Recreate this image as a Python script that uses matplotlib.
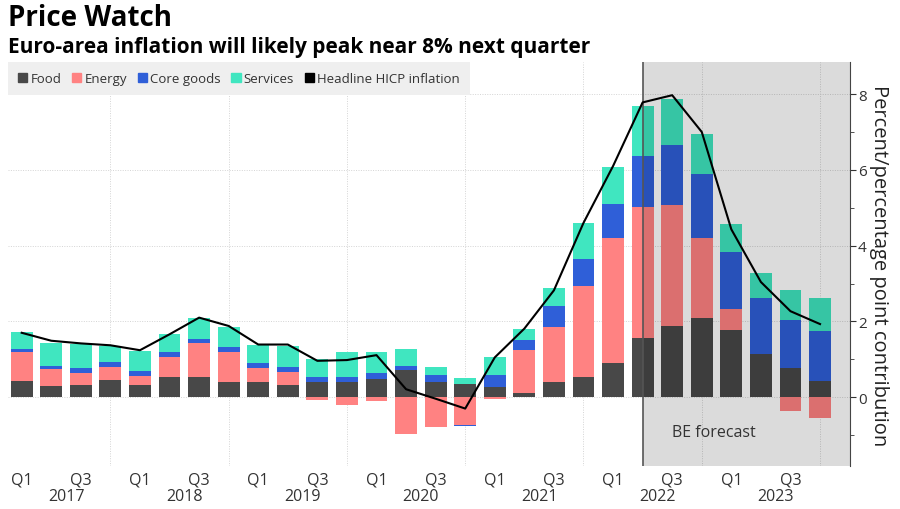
import numpy as np
import matplotlib.pyplot as plt
from matplotlib.patches import Patch
from matplotlib.transforms import blended_transform_factory

plt.rcParams['font.family'] = ['Open Sans', 'DejaVu Sans']

# quarterly contributions, 2017 Q1 .. 2023 Q4
years = ['2017', '2018', '2019', '2020', '2021', '2022', '2023']
quarters = ['Q1', 'Q2', 'Q3', 'Q4']
food = [0.42, 0.30, 0.32, 0.46, 0.33, 0.52, 0.52, 0.40, 0.40, 0.32, 0.39, 0.39, 0.47, 0.71,
        0.40, 0.34, 0.26, 0.10, 0.39, 0.52, 0.91, 1.55, 1.89, 2.10, 1.78, 1.13, 0.77, 0.42]
energy = [0.78, 0.44, 0.31, 0.35, 0.23, 0.54, 0.90, 0.80, 0.36, 0.35, -0.07, -0.21, -0.11, -0.98,
          -0.78, -0.74, -0.05, 1.14, 1.47, 2.42, 3.30, 3.48, 3.19, 2.10, 0.56, 0.0, -0.37, -0.55]
core_goods = [0.08, 0.09, 0.14, 0.12, 0.13, 0.12, 0.11, 0.13, 0.15, 0.14, 0.13, 0.15, 0.16, 0.12,
              0.18, -0.03, 0.32, 0.26, 0.55, 0.72, 0.88, 1.34, 1.57, 1.69, 1.48, 1.48, 1.27, 1.33]
services = [0.44, 0.61, 0.63, 0.42, 0.52, 0.50, 0.55, 0.53, 0.48, 0.53, 0.48, 0.64, 0.55, 0.43,
            0.23, 0.16, 0.48, 0.31, 0.48, 0.95, 0.99, 1.32, 1.23, 1.05, 0.74, 0.68, 0.79, 0.88]
headline = [1.70, 1.49, 1.42, 1.37, 1.24, 1.66, 2.10, 1.88, 1.39, 1.39, 0.96, 0.98, 1.11, 0.21,
            -0.04, -0.30, 1.05, 1.81, 2.82, 4.60, 6.10, 7.78, 7.97, 7.00, 4.43, 3.04, 2.27, 1.93]
forecast_start = 21  # 2022 Q2

series = [('Food', food, '#484848'),
          ('Energy', energy, '#ff8282'),
          ('Core goods', core_goods, '#2f5fd8'),
          ('Services', services, '#40e6c0')]

n = len(food)
x = np.arange(n)

fig = plt.figure(figsize=(9, 5.1), dpi=100)
ax = fig.add_axes([0.009, 0.084, 0.935, 0.792])

pos_bottom = np.zeros(n)
neg_bottom = np.zeros(n)
for name, vals, col in series:
    v = np.array(vals)
    b = np.where(v >= 0, pos_bottom, neg_bottom)
    ax.bar(x, v, 0.74, bottom=b, color=col, zorder=2)
    pos_bottom = pos_bottom + np.where(v > 0, v, 0)
    neg_bottom = neg_bottom + np.where(v < 0, v, 0)

ax.plot(x, headline, color='black', lw=1.5, zorder=5)

# forecast shading
ax.axvspan(forecast_start, n, color='black', alpha=0.14, lw=0, zorder=3)
ax.axvline(forecast_start, color='#555555', lw=1.2, zorder=4)
ax.text(forecast_start + 2.4, -0.92, 'BE forecast', ha='center', va='center',
        fontsize=11.5, color='#333333', zorder=6)

ax.set_xlim(-0.46, n)
ax.set_ylim(-1.82, 8.84)

ax.yaxis.tick_right()
ax.yaxis.set_label_position('right')
ax.set_yticks([0, 2, 4, 6, 8])
ax.set_yticks([-1, 1, 3, 5, 7], minor=True)
ax.tick_params(axis='y', which='major', length=4, labelsize=11, colors='#333333', pad=2)
ax.tick_params(axis='y', which='minor', length=3, colors='#333333')
ax.set_ylabel('Percent/percentage point contribution', rotation=270, fontsize=14.5,
              color='#222222', labelpad=16)

# vertical grid at each Q4
ax.set_xticks(x[3::4])
ax.set_xticklabels([])
ax.tick_params(axis='x', length=0)
ax.grid(True, axis='both', color='#d4d4d4', lw=0.7, ls=(0, (1, 1.5)), zorder=0)

for s in ['left', 'top', 'bottom']:
    ax.spines[s].set_visible(False)
ax.spines['right'].set_color('#444444')

trans = blended_transform_factory(ax.transData, ax.transAxes)
for i in range(0, n, 2):
    ax.text(x[i], -0.012, quarters[i % 4], transform=trans, ha='center', va='top',
            fontsize=11.5, color='#333333')
for k, yr in enumerate(years):
    ax.text(4 * k + 1.5, -0.054, yr, transform=trans, ha='center', va='top',
            fontsize=11.5, color='#333333')

handles = [Patch(color=c, label=nm) for nm, _, c in series]
handles.append(Patch(color='black', label='Headline HICP inflation'))
leg = ax.legend(handles=handles, ncol=5, loc='upper left', bbox_to_anchor=(0.0, 1.0),
                frameon=True, fancybox=False, facecolor='#efefef', edgecolor='none',
                framealpha=1, fontsize=9.5, handlelength=0.7, handleheight=0.7,
                handletextpad=0.25, columnspacing=0.8, borderaxespad=0, borderpad=0.75)
leg.set_zorder(7)
for t in leg.get_texts():
    t.set_color('#333333')

fig.text(0.009, 1 - 18 / 510, 'Price Watch', fontsize=20, fontweight='bold',
         va='center', ha='left')
fig.text(0.009, 1 - 47 / 510, 'Euro-area inflation will likely peak near 8% next quarter',
         fontsize=15, fontweight='bold', va='center', ha='left')

fig.savefig('out.png', dpi=100)
